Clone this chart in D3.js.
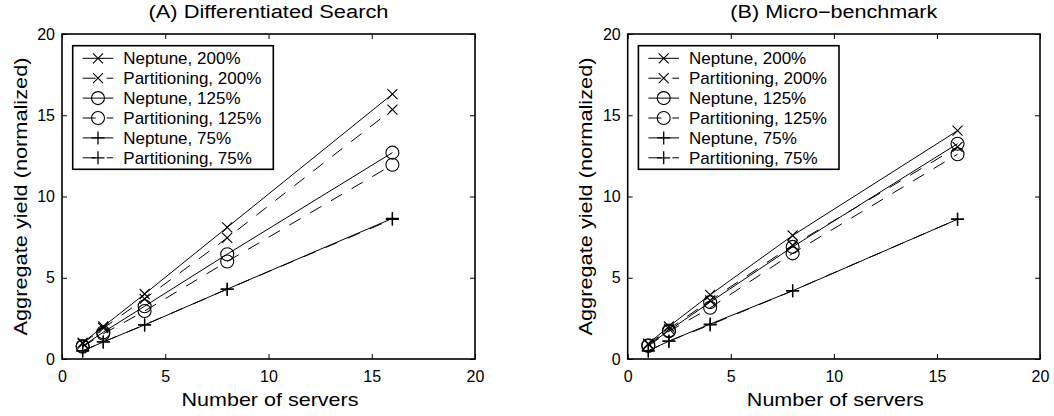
<!DOCTYPE html>
<html>
<head>
<meta charset="utf-8">
<script src="https://cdn.jsdelivr.net/npm/d3@7"></script>
<style>
  html, body { margin: 0; padding: 0; background: #fff; }
  svg { display: block; font-family: "Liberation Sans", Arial, Helvetica, sans-serif; }
</style>
</head>
<body>
<svg id="chart" width="1054" height="416"></svg>
<script>
// Number of servers (x positions of every series)
const servers = [1, 2, 4, 8, 16];

// Axis tick values
const xTicks = [0, 5, 10, 15, 20];
const yTicks = [0, 5, 10, 15, 20];

// Series names, in legend order
const seriesNames = [
  "Neptune, 200%", "Partitioning, 200%",
  "Neptune, 125%", "Partitioning, 125%",
  "Neptune, 75%", "Partitioning, 75%"
];

// (A) Differentiated Search: aggregate yield (normalized)
const searchNeptune200      = [1.0, 2.0, 4.0, 8.1, 16.3];
const searchPartitioning200 = [0.95, 1.9, 3.7, 7.45, 15.35];
const searchNeptune125      = [0.8, 1.65, 3.25, 6.45, 12.7];
const searchPartitioning125 = [0.75, 1.55, 2.95, 6.0, 11.95];
const searchNeptune75       = [0.5, 1.05, 2.1, 4.3, 8.65];
const searchPartitioning75  = [0.5, 1.05, 2.1, 4.3, 8.6];

// (B) Micro-benchmark: aggregate yield (normalized)
const microNeptune200      = [0.95, 2.0, 3.95, 7.6, 14.05];
const microPartitioning200 = [0.9, 1.85, 3.6, 7.0, 13.05];
const microNeptune125      = [0.85, 1.75, 3.5, 6.9, 13.25];
const microPartitioning125 = [0.8, 1.7, 3.15, 6.5, 12.6];
const microNeptune75       = [0.5, 1.1, 2.15, 4.2, 8.6];
const microPartitioning75  = [0.5, 1.1, 2.1, 4.2, 8.6];

// Marker shape per series and whether the series line is dashed
const markerKinds = ["x", "x", "o", "o", "+", "+"];
const dashed = [false, true, false, true, false, true];

const panels = [
  {
    title: "(A) Differentiated Search", titleLen: 240,
    left: 62, right: 475,
    series: [searchNeptune200, searchPartitioning200, searchNeptune125,
             searchPartitioning125, searchNeptune75, searchPartitioning75]
  },
  {
    title: "(B) Micro\u2212benchmark", titleLen: 207,
    left: 627.7, right: 1040,
    series: [microNeptune200, microPartitioning200, microNeptune125,
             microPartitioning125, microNeptune75, microPartitioning75]
  }
];

const plotTop = 34, plotBottom = 359;
const dashPattern = "13,11";
const svg = d3.select("#chart");

function marker(g, kind) {
  if (kind === "o") {
    g.append("circle").attr("r", 6.5).attr("fill", "none")
      .attr("stroke", "#000").attr("stroke-width", 1.1);
  } else if (kind === "x") {
    g.append("path").attr("d", "M-5,-5L5,5M-5,5L5,-5")
      .attr("fill", "none").attr("stroke", "#000").attr("stroke-width", 1.1);
  } else {
    g.append("path").attr("d", "M-6.5,0H6.5M0,-6.5V6.5")
      .attr("fill", "none").attr("stroke", "#000").attr("stroke-width", 1.3);
  }
}

panels.forEach(p => {
  const x = d3.scaleLinear().domain([0, 20]).range([p.left, p.right]);
  const y = d3.scaleLinear().domain([0, 20]).range([plotBottom, plotTop]);
  const g = svg.append("g");

  // Axes: inward ticks on all four sides, labels on bottom and left
  g.append("g").attr("transform", `translate(0,${plotBottom})`)
    .call(d3.axisBottom(x).tickValues(xTicks).tickSizeInner(-5).tickSizeOuter(0).tickPadding(12));
  g.append("g").attr("transform", `translate(${p.left},0)`)
    .call(d3.axisLeft(y).tickValues(yTicks).tickSizeInner(-5).tickSizeOuter(0).tickPadding(7));
  g.append("g").attr("transform", `translate(0,${plotTop})`)
    .call(d3.axisTop(x).tickValues(xTicks).tickSizeInner(-5).tickSizeOuter(0).tickFormat(""));
  g.append("g").attr("transform", `translate(${p.right},0)`)
    .call(d3.axisRight(y).tickValues(yTicks).tickSizeInner(-5).tickSizeOuter(0).tickFormat(""));
  g.selectAll(".domain").remove();
  g.selectAll(".tick line").attr("stroke", "#000").attr("stroke-width", 1);
  g.selectAll(".tick text").attr("font-size", 16).attr("fill", "#000")
    .attr("font-family", "\"Liberation Sans\", Arial, Helvetica, sans-serif");

  // Plot box
  g.append("rect").attr("x", p.left).attr("y", plotTop)
    .attr("width", p.right - p.left).attr("height", plotBottom - plotTop)
    .attr("fill", "none").attr("stroke", "#000").attr("stroke-width", 1.6);

  // Series lines and markers
  const line = d3.line().x(d => x(d[0])).y(d => y(d[1]));
  p.series.forEach((vals, i) => {
    const pts = servers.map((s, j) => [s, vals[j]]);
    g.append("path").datum(pts).attr("d", line)
      .attr("fill", "none").attr("stroke", "#000").attr("stroke-width", 1)
      .attr("stroke-dasharray", dashed[i] ? dashPattern : null);
    pts.forEach(pt => {
      const m = g.append("g").attr("transform", `translate(${x(pt[0])},${y(pt[1])})`);
      marker(m, markerKinds[i]);
    });
  });

  // Title and axis labels
  g.append("text").attr("x", (p.left + p.right) / 2).attr("y", 18.3)
    .attr("text-anchor", "middle").attr("font-size", 18)
    .attr("textLength", p.titleLen).attr("lengthAdjust", "spacingAndGlyphs")
    .text(p.title);
  g.append("text").attr("x", (p.left + p.right) / 2 + 1.5).attr("y", 406)
    .attr("text-anchor", "middle").attr("font-size", 19)
    .attr("textLength", 177).attr("lengthAdjust", "spacingAndGlyphs")
    .text("Number of servers");
  g.append("text")
    .attr("transform", `translate(${p.left - 35.3},${(plotTop + plotBottom) / 2}) rotate(-90)`)
    .attr("text-anchor", "middle").attr("font-size", 19)
    .attr("textLength", 278).attr("lengthAdjust", "spacingAndGlyphs")
    .text("Aggregate yield (normalized)");

  // Legend
  const lx = p.left + 10.7, lyTop = 45.7;
  const leg = g.append("g");
  leg.append("rect").attr("x", lx).attr("y", lyTop).attr("width", 200.6).attr("height", 123.6)
    .attr("fill", "#fff").attr("stroke", "#000").attr("stroke-width", 1.6);
  seriesNames.forEach((name, i) => {
    const cy = 58.3 + i * 19.9;
    leg.append("line").attr("x1", lx + 10).attr("x2", lx + 40.6)
      .attr("y1", cy).attr("y2", cy)
      .attr("stroke", "#000").attr("stroke-width", 1)
      .attr("stroke-dasharray", dashed[i] ? dashPattern : null);
    const m = leg.append("g").attr("transform", `translate(${lx + 25.3},${cy})`);
    marker(m, markerKinds[i]);
    leg.append("text").attr("x", lx + 50.6).attr("y", cy).attr("dy", "0.36em")
      .attr("font-size", 17).text(name);
  });
});
</script>
</body>
</html>
